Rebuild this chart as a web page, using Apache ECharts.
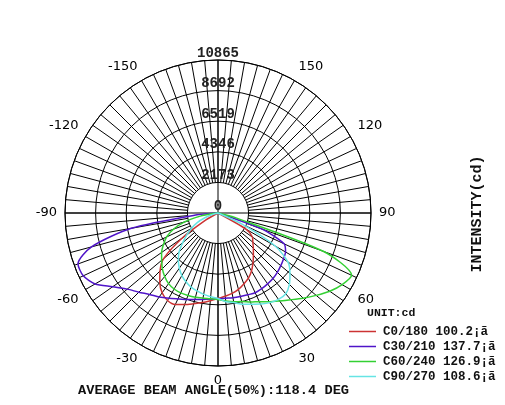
<!DOCTYPE html>
<html>
<head>
<meta charset="utf-8">
<script src="https://cdn.jsdelivr.net/npm/echarts@6/dist/echarts.min.js"></script>
<style>
html,body{margin:0;padding:0;background:#fff;}
#chart{width:505px;height:405px;}
</style>
</head>
<body>
<div id="chart"></div>
<script>
// gamma angles (deg), 0 = straight down
const angles = [-90,-85,-80,-75,-70,-65,-60,-55,-50,-45,-40,-35,-30,-25,-20,-15,-10,-5,0,5,10,15,20,25,30,35,40,45,50,55,60,65,70,75,80,85,90];
// intensities (cd)
const c0_180  = [0,0,0,0,0,0,990,3120,5040,5820,6430,6920,7170,7170,6920,6670,6460,6250,6070,5930,5790,5610,5360,5110,4760,4330,3910,3550,3230,2980,2270,0,0,0,0,0,0];
const c30_210 = [0,1490,6250,9300,10580,10560,10080,9120,8410,7950,7550,7280,6990,6730,6530,6360,6230,6140,6090,6070,6110,6140,6180,6250,6210,6140,6070,5960,5820,5680,5540,5180,3340,0,0,0,0];
const c60_240 = [0,360,1280,2490,3370,4030,4470,4890,5220,5590,5890,6120,6230,6260,6240,6200,6140,6110,6140,6270,6400,6510,6730,6950,7270,7620,8040,8550,9100,9690,10180,10470,7950,1280,0,0,0];
const c90_270 = [0,0,0,360,990,1650,2170,2690,3270,3910,4380,4790,5130,5390,5600,5730,5870,5970,6070,6320,6460,6710,6890,7140,7350,7490,7490,7170,6670,6070,4690,1920,0,0,0,0,0];

const seriesNames = ['C0/180 100.2¡ã','C30/210 137.7¡ã','C60/240 126.9¡ã','C90/270 108.6¡ã'];
const seriesValues = [c0_180, c30_210, c60_240, c90_270];
const seriesColors = ['#cc3333','#4f14c8','#33d033','#66e4e4'];

const radiusMax = 10865;
const radiusStep = 2173;
const angleLabelStep = 30;

const titleText = 'AVERAGE BEAM ANGLE(50%):118.4 DEG';
const unitText = 'UNIT:cd';
const axisNameText = 'INTENSITY(cd)';

const chart = echarts.init(document.getElementById('chart'), null, {renderer:'canvas'});
const cx = 218, cy = 213, R = 153;
const monoFont = "'Liberation Mono','DejaVu Sans Mono',monospace";

const option = {
  backgroundColor: '#ffffff',
  animation: false,
  title: {
    text: titleText, left: 78, top: 384, padding: 0,
    textStyle: {fontFamily: monoFont, fontSize: 13.7, fontWeight: 'bold', color: '#111'}
  },
  legend: {
    orient: 'vertical', left: 349, top: 324, padding: 0,
    itemWidth: 27, itemHeight: 1.5, itemGap: 0, icon: 'rect',
    data: seriesNames,
    textStyle: {fontFamily: monoFont, fontSize: 12.5, fontWeight: 'bold', color: '#111', lineHeight: 15, padding: [0,0,0,2]}
  },
  graphic: [
    {type: 'text', left: 367, top: 307, style: {text: unitText, font: "bold 11.5px 'Liberation Mono', monospace", fill: '#111'}},
    {type: 'text', x: 477, y: 214, rotation: Math.PI/2,
     style: {text: axisNameText, font: "bold 15px 'Liberation Mono', monospace", fill: '#111', align: 'center', verticalAlign: 'middle'}}
  ],
  polar: [
    {center: [cx, cy], radius: [0, R]},
    {center: [cx, cy], radius: [R / 5, R]}
  ],
  angleAxis: [
    {
      polarIndex: 0, type: 'value', min: -180, max: 180, interval: 90,
      startAngle: 90, clockwise: false,
      axisLine: {show: true, lineStyle: {color: '#000', width: 1}},
      axisTick: {show: false}, axisLabel: {show: false},
      splitLine: {show: true, lineStyle: {color: '#000', width: 1}}
    },
    {
      polarIndex: 1, type: 'value', min: -180, max: 180, interval: 5,
      startAngle: 90, clockwise: false,
      axisLine: {show: false}, axisTick: {show: false},
      axisLabel: {
        show: true, margin: 8,
        fontFamily: "'DejaVu Sans', sans-serif", fontSize: 13, color: '#000',
        formatter: function (v) { return (v % angleLabelStep === 0 && Math.abs(v) !== 180) ? String(v) : ''; }
      },
      splitLine: {show: true, lineStyle: {color: '#000', width: 1}}
    }
  ],
  radiusAxis: [
    {
      polarIndex: 0, type: 'value', min: 0, max: radiusMax, interval: radiusStep,
      axisLine: {show: false}, axisTick: {show: false},
      axisLabel: {show: true, margin: 0, align: 'center', verticalAlign: 'bottom',
        fontFamily: monoFont, fontSize: 14, fontWeight: 'bold', color: '#222',
        formatter: function (v) { return String(v); }},
      splitLine: {show: true, lineStyle: {color: '#000', width: 1}}
    },
    {
      polarIndex: 1, type: 'value', min: 0, max: radiusMax, show: false,
      axisLine: {show: false}, axisTick: {show: false}, axisLabel: {show: false}, splitLine: {show: false}
    }
  ],
  series: seriesNames.map(function (name, i) {
    return {
      name: name, type: 'line', coordinateSystem: 'polar', polarIndex: 0,
      showSymbol: false, symbol: 'none', smooth: 0.25,
      lineStyle: {color: seriesColors[i], width: 1.5},
      itemStyle: {color: seriesColors[i]},
      data: angles.map(function (a, j) { return [seriesValues[i][j], a]; })
    };
  })
};
chart.setOption(option);
</script>
</body>
</html>
